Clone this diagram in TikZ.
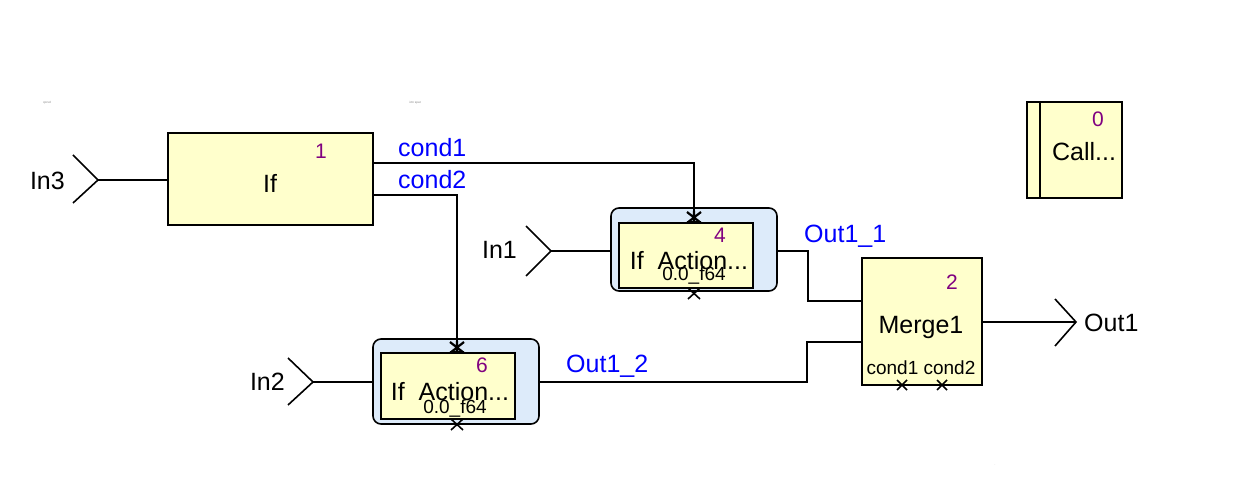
\documentclass[tikz,border=0pt]{standalone}
\usepackage{fontspec}
\setmainfont{Liberation Sans}
\definecolor{blkyel}{RGB}{255,255,204}
\definecolor{sysblue}{RGB}{221,235,250}
\definecolor{sigblue}{RGB}{0,0,255}
\definecolor{numpurp}{RGB}{128,0,128}
\begin{document}
\begin{tikzpicture}[x=1pt,y=-1pt,
  blk/.style={draw=black,line width=2pt,fill=blkyel,inner sep=0,minimum width=#1},
  sysbox/.style={draw=black,line width=1.6pt,fill=sysblue,rounded corners=8pt,inner sep=0},
  wire/.style={draw=black,line width=1.6pt},
  big/.style={inner sep=0,font=\fontsize{25}{28}\selectfont},
  small/.style={inner sep=0,font=\fontsize{19}{21}\selectfont},
  num/.style={inner sep=0,text=numpurp,font=\fontsize{21}{23}\selectfont},
  sig/.style={inner sep=0,text=sigblue,font=\fontsize{25}{28}\selectfont,anchor=west},
  tiny/.style={inner sep=0,text=gray,font=\fontsize{3}{3}\selectfont}]
\useasboundingbox (0,0) rectangle (1235,489);
% tiny texts
\node[tiny] (t1) at (47,103) {cpcvd};
\node[tiny] (t2) at (415,103) {ictn spat};
\node[tiny] (t3) at (995,465) {.};
% blocks
\node[blk=205pt,minimum height=92pt] (ifb) at (270.5,179) {};
\node[num] (n1) at (321,151) {1};
\node[big] (ifl) at (270,183) {If};

\node[sysbox,minimum width=166pt,minimum height=83pt] (s4) at (694,249.5) {};
\node[blk=134pt,minimum height=65pt,line width=1.6pt] (a4) at (686,255.5) {};
\node[num] (n4) at (720,235) {4};
\node[big] (l4) at (689,261) {If\ \ Action...};
\node[small] (f4) at (694,276) {0.0\_f64};

\node[sysbox,minimum width=166pt,minimum height=85pt] (s6) at (456,381.5) {};
\node[blk=134pt,minimum height=66pt,line width=1.6pt] (a6) at (448,386) {};
\node[num] (n6) at (482,365) {6};
\node[big] (l6) at (450,392) {If\ \ Action...};
\node[small] (f6) at (455,409) {0.0\_f64};

\node[blk=120pt,minimum height=127pt] (mg) at (922,321.5) {};
\node[num] (n2) at (952,282) {2};
\node[big] (lm) at (921,327) {Merge1};
\node[small] (cc) at (921,368) {cond1 cond2};

\node[blk=95pt,minimum height=96pt] (call) at (1074.5,150) {};
\draw[line width=2pt] (call.north west) ++(14,0) coordinate (cl1) -- (cl1 |- call.south);
\node[num] (n0) at (1098,119) {0};
\node[big] (lc) at (1084,152) {Call...};

% ports
\coordinate (in3) at (98,180);
\coordinate (in1) at (551,251);
\coordinate (in2) at (313,382);
\coordinate (out1) at (1076,322);
\draw[wire] (73,155) -- (in3) -- (73,203);
\draw[wire] (526,226) -- (in1) -- (526,276);
\draw[wire] (288,358) -- (in2) -- (288,405);
\draw[wire] (1055,299) -- (out1) -- (1055,346);
\node[big,anchor=east] (lin3) at (65,181) {In3};
\node[big,anchor=east] (lin1) at (517,250) {In1};
\node[big,anchor=east] (lin2) at (285,382) {In2};
\node[big,anchor=west] (lout) at (1084,323) {Out1};

% wires
\draw[wire] (in3) -- (ifb.west |- in3);
\draw[wire] (in1) -- (s4.west |- in1);
\draw[wire] (in2) -- (s6.west |- in2);
\coordinate (c1) at (373,163);
\coordinate (c2) at (373,195);
\coordinate (a4t) at (694,223);
\coordinate (a6t) at (457,353);
\draw[wire] (c1) -| (a4t);
\draw[wire] (c2) -| (a6t);
\node[sig] (lc1) at (398,148) {cond1};
\node[sig] (lc2) at (398,180) {cond2};
\coordinate (m1) at (862,301);
\coordinate (m2) at (862,342);
\draw[wire] (s4.east |- in1) -- (808,251) |- (m1);
\draw[wire] (s6.east |- in2) -- (807,382) |- (m2);
\node[sig] (lo1) at (804,236) {Out1\_1};
\node[sig] (lo2) at (566,366) {Out1\_2};
\draw[wire] (mg.east |- out1) -- (out1);

% action port markers
\foreach \x/\y in {694/223, 457/353} {
  \draw[line width=2.2pt] (\x-7,\y-11) -- (\x+7,\y) (\x+7,\y-11) -- (\x-7,\y) (\x,\y-12) -- (\x,\y);
  \draw[line width=2.8pt] (\x-7,\y-1) -- (\x+7,\y-1);
}
\foreach \x/\y in {694/288, 457/419} {
  \draw[line width=1.6pt] (\x-6,\y) -- (\x+6,\y);
  \draw[line width=1.6pt] (\x-6,\y) -- (\x+6,\y+11) (\x+6,\y) -- (\x-6,\y+11);
}
% merge crosses
\foreach \x in {902,942} {
  \draw[line width=1.5pt] (\x-5,380) -- (\x+5,390) (\x+5,380) -- (\x-5,390);
}
\end{tikzpicture}
\end{document}
